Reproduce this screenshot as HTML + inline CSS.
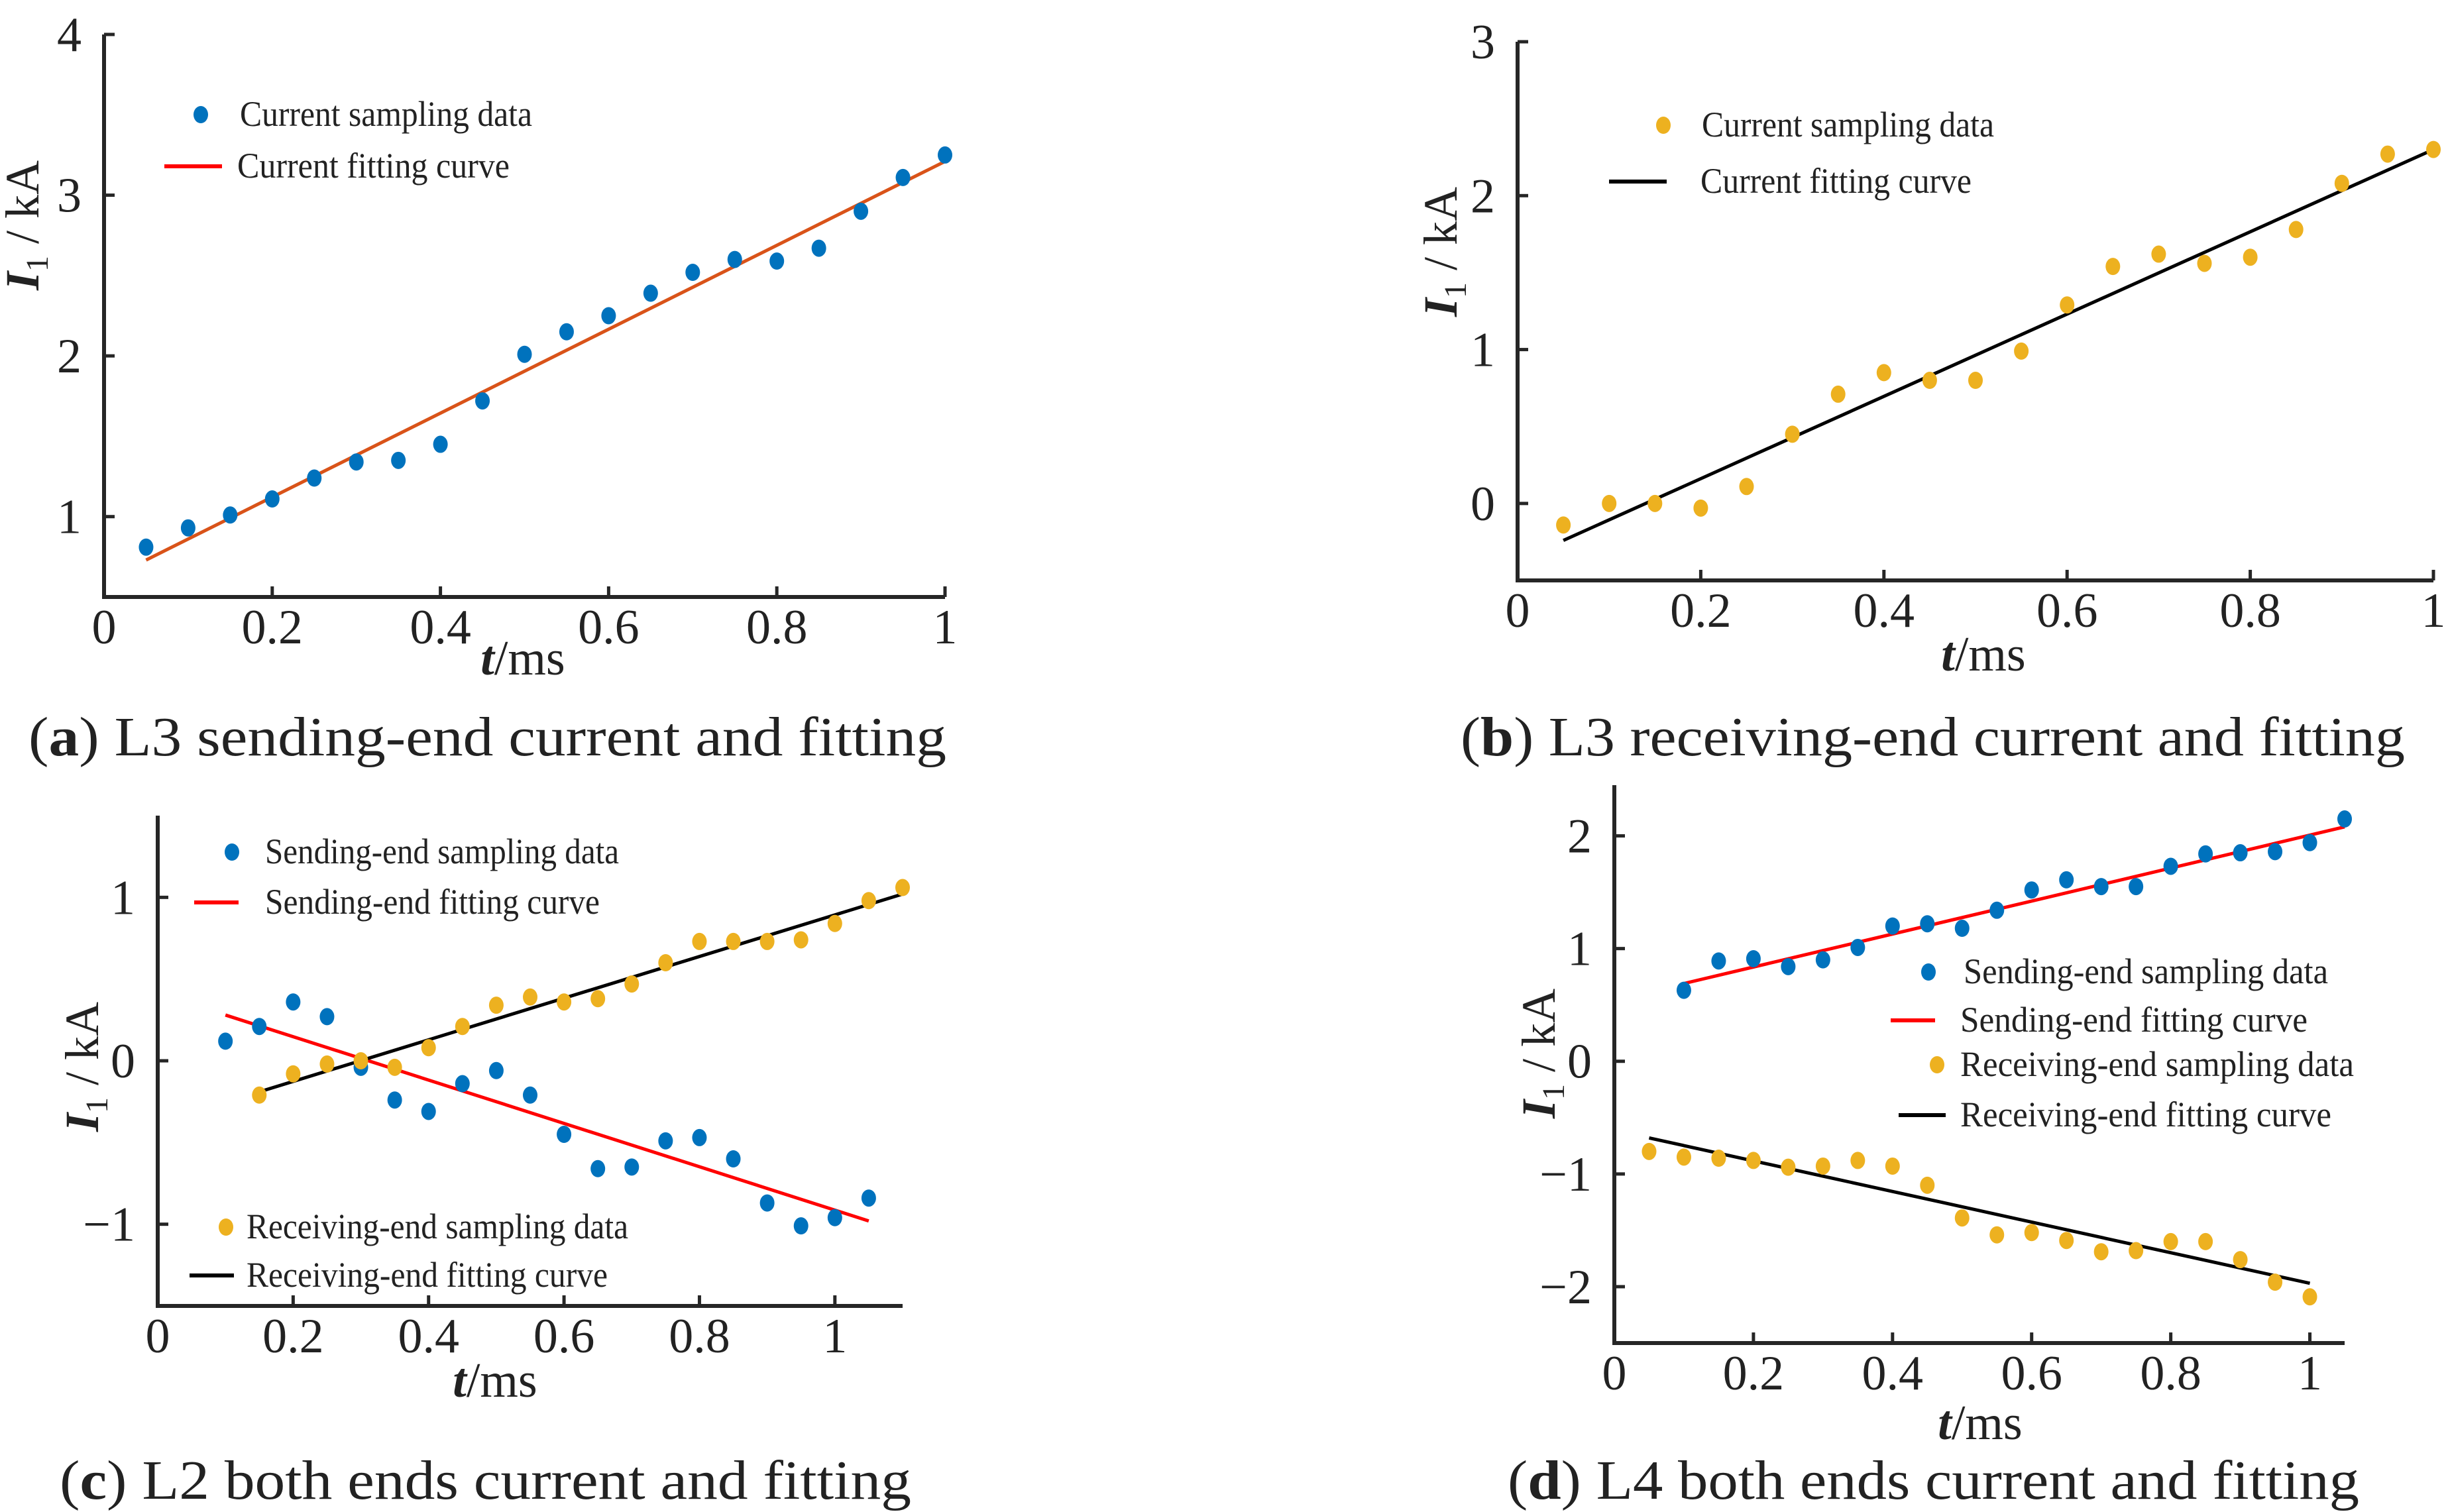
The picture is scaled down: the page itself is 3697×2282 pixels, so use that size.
<!DOCTYPE html>
<html><head><meta charset="utf-8"><style>
html,body{margin:0;padding:0;background:#fff;}
svg{display:block;}
text{font-family:"Liberation Serif",serif;fill:#222;}
</style></head><body>
<svg id="fig" width="3697" height="2282" viewBox="0 0 3697 2282" xmlns="http://www.w3.org/2000/svg"></svg>
<script>
// ---- data: panel a ----
const aT = [0.05,0.1,0.15,0.2,0.25,0.3,0.35,0.4,0.45,0.5,0.55,0.6,0.65,0.7,0.75,0.8,0.85,0.9,0.95,1.0];
const aI = [0.81,0.93,1.01,1.11,1.24,1.34,1.35,1.45,1.72,2.01,2.15,2.25,2.39,2.52,2.60,2.59,2.67,2.90,3.11,3.25];
const aFitT = [0.05,1.0];
const aFitI = [0.73,3.21];
// ---- data: panel b ----
const bT = [0.05,0.1,0.15,0.2,0.25,0.3,0.35,0.4,0.45,0.5,0.55,0.6,0.65,0.7,0.75,0.8,0.85,0.9,0.95,1.0];
const bI = [-0.14,0,0,-0.03,0.11,0.45,0.71,0.85,0.80,0.80,0.99,1.29,1.54,1.62,1.56,1.60,1.78,2.08,2.27,2.30];
const bFitT = [0.05,1.0];
const bFitI = [-0.24,2.30];
// ---- data: panel c ----
const cSendT = [0.1,0.15,0.2,0.25,0.3,0.35,0.4,0.45,0.5,0.55,0.6,0.65,0.7,0.75,0.8,0.85,0.9,0.95,1.0,1.05];
const cSendI = [0.12,0.21,0.36,0.27,-0.04,-0.24,-0.31,-0.14,-0.06,-0.21,-0.45,-0.66,-0.65,-0.49,-0.47,-0.60,-0.87,-1.01,-0.96,-0.84];
const cSendFitT = [0.1,1.05];
const cSendFitI = [0.28,-0.98];
const cRecvT = [0.15,0.2,0.25,0.3,0.35,0.4,0.45,0.5,0.55,0.6,0.65,0.7,0.75,0.8,0.85,0.9,0.95,1.0,1.05,1.1];
const cRecvI = [-0.21,-0.08,-0.02,0.0,-0.04,0.08,0.21,0.34,0.39,0.36,0.38,0.47,0.60,0.73,0.73,0.73,0.74,0.84,0.98,1.06];
const cRecvFitT = [0.15,1.1];
const cRecvFitI = [-0.19,1.02];
// ---- data: panel d ----
const dSendT = [0.1,0.15,0.2,0.25,0.3,0.35,0.4,0.45,0.5,0.55,0.6,0.65,0.7,0.75,0.8,0.85,0.9,0.95,1.0,1.05];
const dSendI = [0.63,0.89,0.91,0.84,0.90,1.01,1.20,1.22,1.18,1.34,1.52,1.61,1.55,1.55,1.73,1.84,1.85,1.86,1.94,2.15];
const dSendFitT = [0.1,1.05];
const dSendFitI = [0.69,2.08];
const dRecvT = [0.05,0.1,0.15,0.2,0.25,0.3,0.35,0.4,0.45,0.5,0.55,0.6,0.65,0.7,0.75,0.8,0.85,0.9,0.95,1.0];
const dRecvI = [-0.80,-0.85,-0.86,-0.88,-0.94,-0.93,-0.88,-0.93,-1.10,-1.39,-1.54,-1.52,-1.59,-1.69,-1.68,-1.60,-1.60,-1.76,-1.96,-2.09];
const dRecvFitT = [0.05,1.0];
const dRecvFitI = [-0.68,-1.97];
// ---- tick labels ----
const xTicksAB = [0,0.2,0.4,0.6,0.8,1];
const xTickLabelsAB = ["0","0.2","0.4","0.6","0.8","1"];
const yTicksA = [1,2,3,4];
const yTicksB = [0,1,2,3];
const yTicksC = [-1,0,1];
const yTickLabelsC = ["\u22121","0","1"];
const yTicksD = [-2,-1,0,1,2];
const yTickLabelsD = ["\u22122","\u22121","0","1","2"];

const BLUE="#0072bd", YEL="#edb120", RED="#ff0000", ORG="#d95319", BLK="#000";
const NS="http://www.w3.org/2000/svg";
const svg=document.getElementById('fig');
function el(tag,attrs,parent,txt){const e=document.createElementNS(NS,tag);for(const k in attrs)e.setAttribute(k,attrs[k]);if(txt!==undefined)e.textContent=txt;(parent||svg).appendChild(e);return e;}

function panel(cfg){
  const g=el('g',{});
  
  
  const sx=v=>cfg.x0+(v-cfg.xmin)/(cfg.xmax-cfg.xmin)*(cfg.x1-cfg.x0);
  const sy=v=>cfg.y0-(v-cfg.ymin)/(cfg.ymax-cfg.ymin)*(cfg.y0-cfg.y1);
  const ax=el('path',{d:`M${cfg.x0} ${cfg.y1} V${cfg.y0} H${cfg.x1}`,fill:'none',stroke:'#262626','stroke-width':6},g);
  
  
  cfg.xt.forEach((v,i)=>{
    el('line',{x1:sx(v),x2:sx(v),y1:cfg.y0,y2:cfg.y0-16,stroke:'#262626','stroke-width':5},g);
    const t=el('text',{x:sx(v),y:cfg.y0+70,'font-size':74,'text-anchor':'middle'},g,cfg.xtl[i]);
    
    
  });
  cfg.yt.forEach((v,i)=>{
    el('line',{x1:cfg.x0,x2:cfg.x0+16,y1:sy(v),y2:sy(v),stroke:'#262626','stroke-width':5},g);
    const t=el('text',{x:cfg.x0-34,y:sy(v)+25,'font-size':74,'text-anchor':'end'},g,cfg.ytl[i]);
    
    
  });
  cfg.series.forEach(s=>{
    if(s.type==='dots'){
      s.t.forEach((tv,i)=>{
        const d=el('ellipse',{cx:sx(tv),cy:sy(s.v[i]),rx:11,ry:13,fill:s.color},g);
        
        
      });
    } else {
      const l=el('line',{x1:sx(s.t[0]),y1:sy(s.v[0]),x2:sx(s.t[1]),y2:sy(s.v[1]),stroke:s.color,'stroke-width':5},g);
      
      
    }
  });
  cfg.legend.forEach(L=>{
    if(L.dot){const d=el('ellipse',{cx:L.mx,cy:L.y,rx:11,ry:13,fill:L.color},g);
      
      }
    else{const d=el('line',{x1:L.mx,x2:L.mx2,y1:L.y,y2:L.y,stroke:L.color,'stroke-width':6},g);
      
      }
    const t=el('text',{x:L.tx,y:L.y+17,'font-size':54,textLength:L.tw,lengthAdjust:'spacingAndGlyphs'},g,L.text);
    
    
  });
  const yl=el('text',{transform:`translate(${cfg.ylx},${cfg.yly}) rotate(-90)`,'font-size':72,'text-anchor':'middle'},g);
  
  
  el('tspan',{'font-weight':'bold','font-style':'italic'},yl,'I');
  el('tspan',{'font-size':48,dy:14},yl,'1');
  el('tspan',{dy:-14},yl,' / kA');
  const xl=el('text',{x:cfg.xlx,y:cfg.xly,'font-size':74,'text-anchor':'middle'},g);
  
  
  el('tspan',{'font-weight':'bold','font-style':'italic'},xl,'t');
  el('tspan',{},xl,'/ms');
  const cap=el('text',{x:cfg.cx0,y:cfg.cy,'font-size':84,textLength:cfg.cw,lengthAdjust:'spacingAndGlyphs'},g);
  
  
  el('tspan',{},cap,'(');
  el('tspan',{'font-weight':'bold'},cap,cfg.letter);
  el('tspan',{},cap,') '+cfg.caption);
}

panel({name:'chart-a',x0:157,x1:1426,xmin:0,xmax:1,y0:901,y1:52,ymin:0.5,ymax:4,
  xt:xTicksAB,xtl:xTickLabelsAB,yt:yTicksA,ytl:yTicksA.map(String),
  series:[{type:'line',t:aFitT,v:aFitI,color:ORG,name:'fitting-line'},{type:'dots',t:aT,v:aI,color:BLUE,name:'sample-point'}],
  legend:[{dot:true,mx:303,y:173,color:BLUE,tx:362,tw:441,text:'Current sampling data'},
          {dot:false,mx:248,mx2:335,y:251,color:RED,tx:358,tw:411,text:'Current fitting curve'}],
  ylx:58,yly:340,xlx:789,xly:1018,cx0:43,cy:1140,cw:1385,letter:'a',caption:'L3 sending-end current and fitting'});

panel({name:'chart-b',x0:2290,x1:3672,xmin:0,xmax:1,y0:876,y1:63,ymin:-0.5,ymax:3,
  xt:xTicksAB,xtl:xTickLabelsAB,yt:yTicksB,ytl:yTicksB.map(String),
  series:[{type:'line',t:bFitT,v:bFitI,color:BLK,name:'fitting-line'},{type:'dots',t:bT,v:bI,color:YEL,name:'sample-point'}],
  legend:[{dot:true,mx:2510,y:189,color:YEL,tx:2568,tw:441,text:'Current sampling data'},
          {dot:false,mx:2428,mx2:2515,y:274,color:BLK,tx:2566,tw:409,text:'Current fitting curve'}],
  ylx:2198,yly:380,xlx:2993,xly:1012,cx0:2204,cy:1140,cw:1425,letter:'b',caption:'L3 receiving-end current and fitting'});

panel({name:'chart-c',x0:238,x1:1362,xmin:0,xmax:1.1,y0:1971,y1:1231,ymin:-1.5,ymax:1.5,
  xt:xTicksAB,xtl:xTickLabelsAB,yt:yTicksC,ytl:yTickLabelsC,
  series:[{type:'line',t:cSendFitT,v:cSendFitI,color:RED,name:'sending-fit-line'},
          {type:'line',t:cRecvFitT,v:cRecvFitI,color:BLK,name:'receiving-fit-line'},
          {type:'dots',t:cSendT,v:cSendI,color:BLUE,name:'sending-point'},
          {type:'dots',t:cRecvT,v:cRecvI,color:YEL,name:'receiving-point'}],
  legend:[{dot:true,mx:350,y:1286,color:BLUE,tx:400,tw:534,text:'Sending-end sampling data'},
          {dot:false,mx:293,mx2:360,y:1362,color:RED,tx:400,tw:505,text:'Sending-end fitting curve'},
          {dot:true,mx:341,y:1852,color:YEL,tx:372,tw:576,text:'Receiving-end sampling data'},
          {dot:false,mx:286,mx2:353,y:1925,color:BLK,tx:372,tw:545,text:'Receiving-end fitting curve'}],
  ylx:148,yly:1610,xlx:747,xly:2108,cx0:90,cy:2262,cw:1285,letter:'c',caption:'L2 both ends current and fitting'});

panel({name:'chart-d',x0:2436,x1:3538,xmin:0,xmax:1.05,y0:2027,y1:1185,ymin:-2.5,ymax:2.45,
  xt:xTicksAB,xtl:xTickLabelsAB,yt:yTicksD,ytl:yTickLabelsD,
  series:[{type:'line',t:dSendFitT,v:dSendFitI,color:RED,name:'sending-fit-line'},
          {type:'line',t:dRecvFitT,v:dRecvFitI,color:BLK,name:'receiving-fit-line'},
          {type:'dots',t:dSendT,v:dSendI,color:BLUE,name:'sending-point'},
          {type:'dots',t:dRecvT,v:dRecvI,color:YEL,name:'receiving-point'}],
  legend:[{dot:true,mx:2910,y:1467,color:BLUE,tx:2963,tw:550,text:'Sending-end sampling data'},
          {dot:false,mx:2853,mx2:2920,y:1540,color:RED,tx:2958,tw:524,text:'Sending-end fitting curve'},
          {dot:true,mx:2923,y:1607,color:YEL,tx:2958,tw:594,text:'Receiving-end sampling data'},
          {dot:false,mx:2865,mx2:2936,y:1683,color:BLK,tx:2958,tw:560,text:'Receiving-end fitting curve'}],
  ylx:2346,yly:1590,xlx:2988,xly:2172,cx0:2275,cy:2262,cw:1285,letter:'d',caption:'L4 both ends current and fitting'});
</script>
</body></html>
